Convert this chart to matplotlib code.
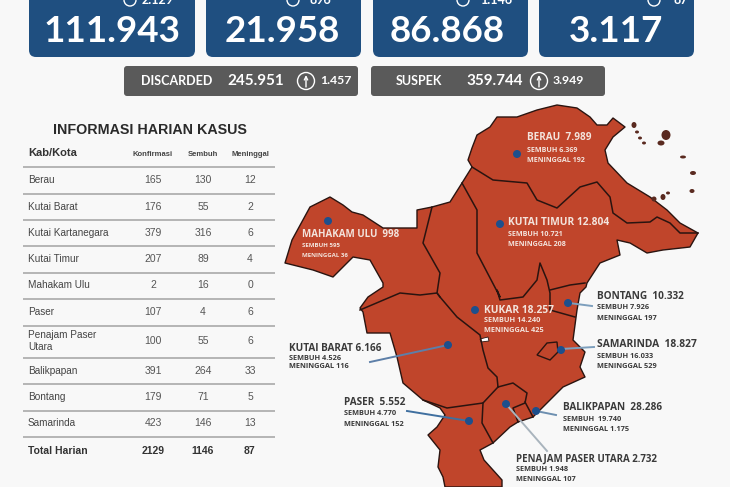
import matplotlib
matplotlib.use("Agg")
import matplotlib.pyplot as plt
from matplotlib.patches import FancyBboxPatch, Polygon, Circle, Ellipse

# ---- data ----
cards_main = ["111.943", "21.958", "86.868", "3.117"]
cards_delta = ["2.129", "896", "1.146", "87"]
grey_labels = ["DISCARDED", "SUSPEK"]
grey_vals = ["245.951", "359.744"]
grey_delta = ["1.457", "3.949"]

table_title = "INFORMASI HARIAN KASUS"
table_head = ["Kab/Kota", "Konfirmasi", "Sembuh", "Meninggal"]
kab = ["Berau", "Kutai Barat", "Kutai Kartanegara", "Kutai Timur", "Mahakam Ulu",
       "Paser", "Penajam Paser\nUtara", "Balikpapan", "Bontang", "Samarinda"]
konfirmasi = [165, 176, 379, 207, 2, 107, 100, 391, 179, 423]
sembuh = [130, 55, 316, 89, 16, 4, 55, 264, 71, 146]
meninggal = [12, 2, 6, 4, 0, 6, 6, 33, 5, 13]
total = ["Total Harian", "2129", "1146", "87"]

# ---- pixel-space canvas ----
W, H = 730, 487
fig = plt.figure(figsize=(7.3, 4.87), dpi=100, facecolor="#f8f8f8")
ax = fig.add_axes([0, 0, 1, 1])
ax.set_xlim(0, W); ax.set_ylim(H, 0); ax.axis("off")

BLUE = "#1f4f80"; GREY = "#5a5a5a"; RED = "#c0452b"; DOT = "#1d4f8c"

def rbox(x0, y0, x1, y1, c, r=7):
    ax.add_patch(FancyBboxPatch((x0 + r, y0 + r), x1 - x0 - 2 * r, y1 - y0 - 2 * r,
                                boxstyle=f"round,pad={r},rounding_size={r}", fc=c, ec="none"))

def arrow_circle(x, y, r, c="white"):
    ax.add_patch(Circle((x, y), r, fc="none", ec=c, lw=1))
    ax.annotate("", xy=(x, y - r * .7), xytext=(x, y + r * .7),
                arrowprops=dict(arrowstyle="->", color=c, lw=1, mutation_scale=6,
                                shrinkA=0, shrinkB=0))

# top cards
card_x = [(29, 195), (206, 361), (373, 528), (539, 694)]
num_x = [112, 282, 447, 616]
circle_x = [130, 293, 463, 654]
delta_x = [142, 310, 480, 673]
for (a, b), nx, cx0, dx, m, d in zip(card_x, num_x, circle_x, delta_x, cards_main, cards_delta):
    rbox(a, -20, b, 57, BLUE)
    ax.text(nx, 32, m, color="white", fontsize=26.5, family="Lato", ha="center", va="center", weight="bold")
    arrow_circle(cx0, 0, 6)
    ax.text(dx, 0, d, color="white", fontsize=9, family="Lato", ha="left", va="center", weight="bold")

# grey bars
grey_x = [(124, 358), (371, 605)]
lx = [177, 419]; vx = [256, 495]; cx = [306, 539]; dx2 = [320, 553]
for (a, b), l, v, d, x1, x2, x3, x4 in zip(grey_x, grey_labels, grey_vals, grey_delta, lx, vx, cx, dx2):
    rbox(a, 66, b, 96, GREY, r=3)
    ax.text(x1, 81, l, color="white", fontsize=9, family="Lato", ha="center", va="center", weight="bold")
    ax.text(x2, 81, v, color="white", fontsize=11, family="Lato", ha="center", va="center", weight="bold")
    arrow_circle(x3, 81, 8.5)
    ax.text(x4, 81, d, color="white", fontsize=8.8, family="Lato", ha="left", va="center", weight="bold")

# table
ax.text(150, 130, table_title, fontsize=10.3, weight="bold", family="Liberation Sans",
        color="#2a2a2a", ha="center", va="center")
col_x = [153, 203, 250]
ax.text(28, 153, table_head[0], fontsize=8, weight="bold", family="Liberation Sans", color="#333333", va="center")
for x, h in zip(col_x, table_head[1:]):
    ax.text(x, 154, h, fontsize=5.5, weight="bold", family="Liberation Sans", color="#444444", ha="center", va="center")
line_y = [167, 194, 220, 246, 273, 299, 326, 358, 384, 411, 437]
for y in line_y:
    ax.plot([23, 275], [y, y], color="#a3a3a3", lw=1.1, solid_capstyle="butt")
for i, name in enumerate(kab):
    yc = (line_y[i] + line_y[i + 1]) / 2 - 0.5
    ax.text(28, yc, name, fontsize=7.2, family="Liberation Sans", color="#444444", va="center", linespacing=1.25)
    for x, v in zip(col_x, (konfirmasi[i], sembuh[i], meninggal[i])):
        ax.text(x, yc, str(v), fontsize=7.5, family="Liberation Sans", color="#555555", ha="center", va="center")
ax.text(28, 451, total[0], fontsize=7.5, weight="bold", family="Liberation Sans", color="#333333", va="center")
for x, v in zip(col_x, total[1:]):
    ax.text(x, 451, v, fontsize=7.5, weight="bold", family="Liberation Sans", color="#333333", ha="center", va="center")

# map (outline, pixel coordinates)
outline = [(330,197),(343,205),(352,212),(363,215),(383,228),(417,228),(417,210),(432,207),(450,202),(462,183),
           (472,167),(468,160),(472,148),(477,135),(490,127),(497,117),(517,117),(537,110),(557,105),(577,108),
           (590,117),(597,125),(607,125),(613,118),(625,127),(613,137),(605,150),(608,163),(627,183),(650,197),
           (667,210),(680,223),(698,233),(690,247),(663,250),(647,253),(630,243),(617,240),(620,255),(600,263),
           (587,283),(586,287),(580,293),(577,310),(573,340),(585,352),(580,367),(585,377),(563,387),(547,403),
           (533,417),(518,422),(510,427),(493,443),(480,450),(484,460),(502,480),(502,487),(445,487),(443,477),
           (438,467),(440,450),(428,435),(437,427),(445,415),(440,408),(423,400),(403,383),(397,357),(390,333),
           (367,333),(363,312),(360,308),(368,297),(383,287),(383,283),(370,260),(353,257),(333,277),(313,270),
           (285,263),(292,240),(310,207)]
ax.add_patch(Polygon(outline, closed=True, fc=RED, ec="#2a1410", lw=1.0, joinstyle="round"))
borders = [
    [(472,167),(493,180),(527,183),(537,200),(557,208),(580,187),(597,182),(610,197),(613,213),(627,223),(650,222),(657,217),(670,223),(680,233),(698,233)],
    [(432,207),(423,243),(440,273),(437,293),(440,297)],
    [(462,183),(477,210),(477,253),(500,297),(497,290),(500,300),(523,297),(537,280),(540,263),(547,280),(550,293),(550,310),(575,317)],
    [(550,290),(570,285),(585,283)],
    [(360,310),(400,293),(420,295),(437,293),(440,297),(457,317),(480,335),(483,350),(488,368),(497,377),(498,387)],
    [(498,387),(483,403),(447,408),(423,400)],
    [(483,403),(482,423),(493,443)],
    [(498,387),(513,383),(527,393),(525,403),(513,408),(518,422)],
    [(525,402),(533,417)],
]
for b in borders:
    ax.plot(*zip(*b), color="#2a1410", lw=1.1, solid_joinstyle="round")
ax.add_patch(Polygon([(537,355),(547,343),(557,342),(558,352),(550,360)], closed=True, fc=RED, ec="#2a1410", lw=1))
ax.add_patch(Polygon([(480,339),(488,337),(489,341),(481,342)], closed=True, fc="white", ec="#2a1410", lw=.6))
islands = [(634,125,5,6),(637,132,4,3),(640,138,4,3),(644,143,4,3),(666,135,9,10),(661,143,7,5),
           (683,157,6,3),(693,173,6,4),(692,191,5,4),(668,193,4,3),(663,197,5,6),(654,199,5,5)]
for x, y, w, h in islands:
    ax.add_patch(Ellipse((x, y), w, h, fc="#5a2a20", ec="none"))

# leader lines
leaders = [(448,345,370,362,"#5d7fa8"),(469,421,407,411,"#3f6f9f"),(506,404,547,451,"#a9b4bd"),
           (536,411,556,415,"#6d8fb0"),(569,303,592,306,"#7d9fbd"),(561,349,594,347,"#7d9fbd")]
for x0, y0, x1, y1, c in leaders:
    ax.plot([x0, x1], [y0, y1], color=c, lw=1.4)

# dots
dots = [(517,154),(328,221),(500,224),(475,310),(568,303),(561,350),(448,345),(469,421),(506,404),(536,411)]
for x, y in dots:
    ax.add_patch(Circle((x, y), 4, fc=DOT, ec="none", zorder=5))

# map labels: (x, y, text, size, colour)
W1 = "#f3e3dc"; D1 = "#3a3a3a"
map_labels = [
    (527,138,"BERAU  7.989",7.2,W1),(527,150.5,"SEMBUH 6.369",5.1,W1),(527,161,"MENINGGAL 192",5.1,W1),
    (302,235,"MAHAKAM ULU  998",7,W1),(302,246,"SEMBUH 595",4.4,W1),(302,256,"MENINGGAL 36",4.4,W1),
    (508,223,"KUTAI TIMUR 12.804",7.4,W1),(508,235,"SEMBUH 10.721",5.1,W1),(508,245,"MENINGGAL 208",5.1,W1),
    (484,311,"KUKAR 18.257",7.4,W1),(484,321,"SEMBUH 14.240",5.3,W1),(484,331.5,"MENINGGAL 425",5.3,W1),
    (597,297,"BONTANG  10.332",7.2,D1),(597,308,"SEMBUH 7.926",5.3,D1),(597,318.5,"MENINGGAL 197",5.3,D1),
    (597,345,"SAMARINDA  18.827",7.4,D1),(597,357,"SEMBUH 16.033",5.3,D1),(597,367.5,"MENINGGAL 529",5.3,D1),
    (289,349,"KUTAI BARAT 6.166",7.2,D1),(289,359.5,"SEMBUH 4.526",5.3,D1),(289,367.5,"MENINGGAL 116",5.3,D1),
    (344,403,"PASER  5.552",7.2,D1),(344,414,"SEMBUH 4.770",5.3,D1),(344,425,"MENINGGAL 152",5.3,D1),
    (563,408,"BALIKPAPAN  28.286",7.2,D1),(563,420,"SEMBUH  19.740",5.3,D1),(563,430,"MENINGGAL 1.175",5.3,D1),
    (516,460,"PENAJAM PASER UTARA 2.732",7,D1),(516,470,"SEMBUH 1.948",5.3,D1),(516,480,"MENINGGAL 107",5.3,D1),
]
for x, y, t, s, c in map_labels:
    ax.text(x, y - 0.5, t, fontsize=s, color=c, weight="bold", family="Open Sans", va="center", zorder=6)

fig.savefig("out.png", dpi=100, facecolor=fig.get_facecolor())
